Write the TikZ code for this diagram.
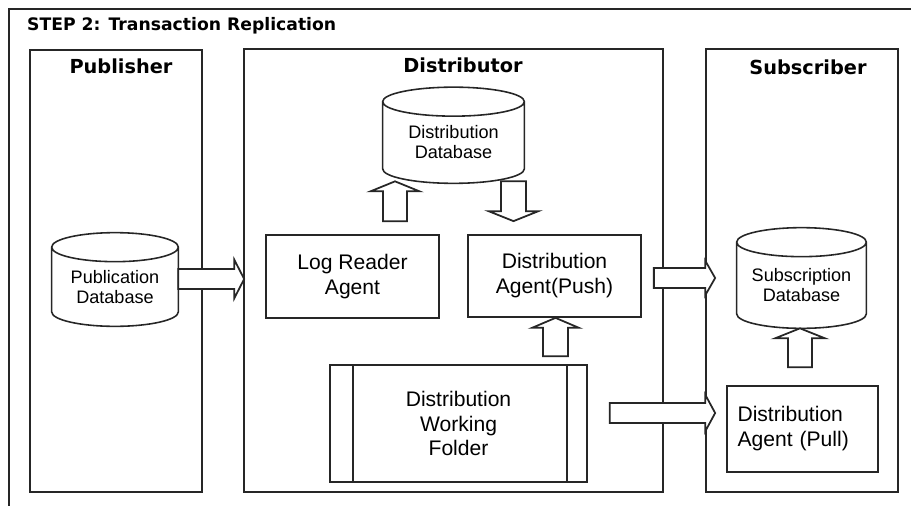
\documentclass[tikz,border=0pt]{standalone}
\usepackage{fontspec}
\setmainfont{Liberation Sans}
\newfontfamily\hdrfont{DejaVu Sans}
\usetikzlibrary{calc, positioning}
\tikzstyle{lane} = [rectangle, draw=black!85, line width=1pt, inner sep=0pt]
\tikzstyle{lanelabel} = [font=\hdrfont\bfseries\fontsize{11}{13}\selectfont]
\tikzstyle{db} = [rectangle, inner sep=0pt, align=center, font=\fontsize{10.3}{11.4}\selectfont]
\tikzstyle{dbline} = [draw=black!85, line width=0.9pt]
\tikzstyle{agent} = [rectangle, draw=black!85, line width=1pt, align=center,
	font=\fontsize{12}{14.2}\selectfont]
\tikzstyle{folderbox} = [agent, path picture={
		\draw[black!85, line width=1pt] ([xshift=0.46cm]path picture bounding box.north west) -- ([xshift=0.46cm]path picture bounding box.south west);
		\draw[black!85, line width=1pt] ([xshift=-0.40cm]path picture bounding box.north east) -- ([xshift=-0.40cm]path picture bounding box.south east);}]
\tikzstyle{fatline} = [draw=black!85, fill=white, line width=1pt, line join=miter]
\newcommand{\headlen}{0.2cm}
\newcommand{\dbry}{0.29cm}
% database outline round a named node (top ellipse centred on its north side)
\newcommand{\dbdraw}[1]{%
	\draw[dbline] let \p1=(#1.north west), \p2=(#1.south east), \n1={0.5*(\x2-\x1)} in
	(\x1,\y1) -- (\x1,\y2+\dbry) arc[start angle=180, end angle=360, x radius=\n1, y radius=\dbry] -- (\x2,\y1)
	(\x1,\y1) arc[start angle=180, end angle=-180, x radius=\n1, y radius=\dbry];}
% hollow block arrow: tail, tip, half shaft width, half head width
\newcommand{\fatarrow}[4]{%
	\draw[fatline] ($(#1)!#3!90:(#2)$) -- ($($(#2)!\headlen!(#1)$)!#3!90:(#2)$)
	-- ($($(#2)!\headlen!(#1)$)!#4!90:(#2)$) -- (#2)
	-- ($($(#2)!\headlen!(#1)$)!#4!-90:(#2)$) -- ($($(#2)!\headlen!(#1)$)!#3!-90:(#2)$)
	-- ($(#1)!#3!-90:(#2)$) -- cycle;}

\begin{document}
\begin{tikzpicture}[x=0.02cm, y=-0.02cm]
	\useasboundingbox (0,0) rectangle (911,506);
	\draw[black!85, line width=1pt] (915,9) -- (9,9) -- (9,510);
	\node (step) [anchor=west, font=\hdrfont\bfseries\fontsize{9.8}{12}\selectfont] at (21,26) {STEP 2: Transaction Replication};

	\node (publane) [lane, minimum width=3.44cm, minimum height=8.84cm] at (116,271) {};
	\node (distlane) [lane, minimum width=8.38cm, minimum height=8.86cm] at (453.5,270.5) {};
	\node (sublane) [lane, minimum width=3.84cm, minimum height=8.86cm] at (802,270.5) {};
	\node (publisher) [lanelabel] at (121,66) {Publisher};
	\node (distributor) [lanelabel] at (463,65) {Distributor};
	\node (subscriber) [lanelabel] at (808,67) {Subscriber};

	\node (pubdb) [db, minimum width=2.52cm, minimum height=1.57cm] at (115,286.75) {Publication\\Database};
	\node (distdb) [db, minimum width=2.82cm, minimum height=1.62cm] at (453.5,142.5) {Distribution\\Database};
	\node (subdb) [db, minimum width=2.58cm, minimum height=1.71cm] at (801.5,285.25) {Subscription\\Database};
	\dbdraw{pubdb}
	\dbdraw{distdb}
	\dbdraw{subdb}

	\node (logreader) [agent, minimum width=3.46cm, minimum height=1.66cm] at (352.5,276.5) {Log Reader\\Agent};
	\node (pushagent) [agent, minimum width=3.46cm, minimum height=1.64cm] at (554.5,276) {Distribution\\Agent(Push)};
	\node (pullagent) [agent, align=left, text width=2.6cm, inner xsep=0.21cm, minimum height=1.72cm] at (802.5,429) {Distribution\\Agent (Pull)};
	\node (folder) [folderbox, minimum width=5.14cm, minimum height=2.34cm] at (458.5,423.5) {Distribution\\Working\\Folder};

	% arrow end points
	\coordinate (pubtip) at ($(pubdb.east -| distlane.west)+(1,-7.75)$);
	\coordinate (pubtail) at (pubtip -| pubdb.east);
	\coordinate (lrtail) at ($(logreader.north)+(42.5,-13)$);
	\coordinate (lrtip) at ($(lrtail |- distdb.south)+(0,-2)$);
	\coordinate (pushin) at ($(pushagent.north)+(-41,-13)$);
	\coordinate (ddtail) at ($(pushin |- distdb.south)+(0,-2)$);
	\coordinate (fdtail) at ($(folder.north)+(97,-8)$);
	\coordinate (fdtip) at (fdtail |- pushagent.south);
	\coordinate (pushout) at ($(pushagent.east)+(12,2)$);
	\coordinate (pushtip) at ($(pushout -| sublane.west)+(10,0)$);
	\coordinate (foldout) at ($(folder.east)+(22,-10.5)$);
	\coordinate (foldtip) at ($(foldout -| sublane.west)+(10,0)$);
	\coordinate (pulltail) at ($(pullagent.north)+(-2.5,-18)$);
	\coordinate (pulltip) at (pulltail |- subdb.south);

	\fatarrow{pubtail}{pubtip}{0.2cm}{0.39cm}
	\fatarrow{lrtail}{lrtip}{0.24cm}{0.49cm}
	\fatarrow{ddtail}{pushin}{0.25cm}{0.5cm}
	\fatarrow{fdtail}{fdtip}{0.25cm}{0.47cm}
	\fatarrow{pushout}{pushtip}{0.2cm}{0.35cm}
	\fatarrow{foldout}{foldtip}{0.2cm}{0.37cm}
	\fatarrow{pulltail}{pulltip}{0.24cm}{0.5cm}

\end{tikzpicture}
\end{document}
